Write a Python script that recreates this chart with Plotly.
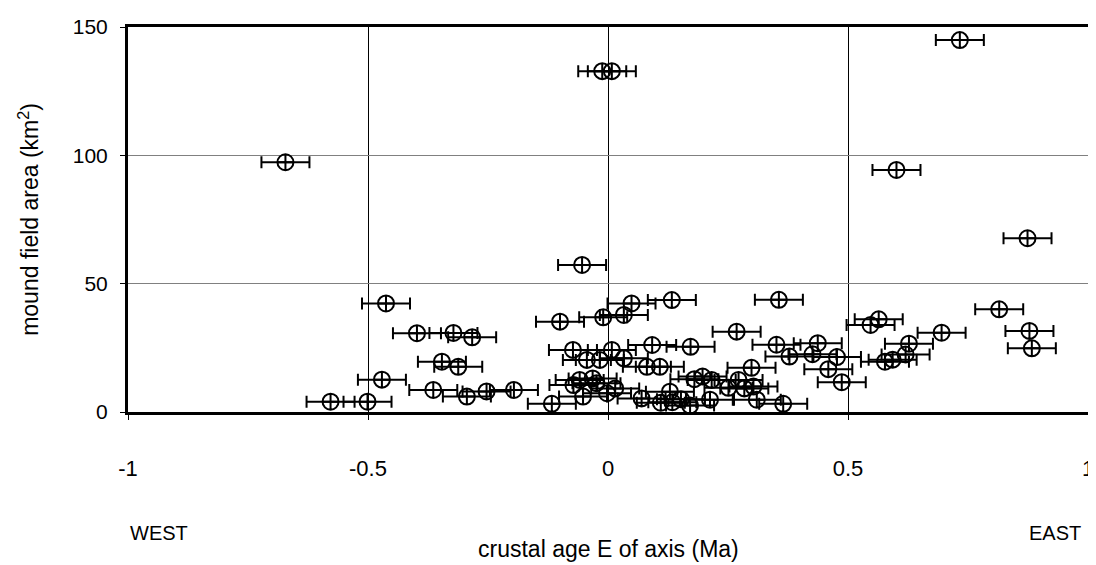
import plotly.graph_objects as go

# crustal age E of axis (Ma)
age = [-0.672, -0.012, 0.008, 0.733, 0.601, 0.874, -0.054, -0.4625, 0.049, 0.133,
       0.356, 0.815, -0.100, -0.010, 0.033, 0.564, 0.547, -0.398, -0.322, -0.283,
       0.268, 0.695, 0.878, 0.883, -0.073, 0.008, 0.092, 0.172, 0.351, 0.437,
       0.627, -0.044, -0.017, 0.033, 0.378, 0.426, 0.477, 0.620, 0.593, 0.577,
       -0.346, -0.312, 0.081, 0.108, 0.299, 0.459, -0.471, -0.059, -0.032, -0.072,
       -0.024, 0.180, 0.197, 0.216, 0.272, 0.487, -0.364, -0.253, -0.196, -0.294,
       0.015, 0.251, 0.284, 0.303, -0.052, -0.002, 0.070, 0.129, 0.110, 0.134,
       0.152, 0.171, 0.2125, 0.310, 0.365, -0.117, -0.578, -0.501]
# mound field area (km2)
area = [97.3, 132.8, 132.8, 144.9, 94.3, 67.7, 57.3, 42.3, 42.3, 43.6,
        43.7, 40.0, 35.2, 36.9, 37.8, 36.1, 33.9, 30.7, 30.8, 29.1,
        31.3, 30.9, 31.6, 24.8, 24.2, 24.2, 26.1, 25.4, 26.2, 26.8,
        26.6, 20.3, 20.3, 20.9, 21.6, 22.5, 21.4, 22.4, 20.4, 19.6,
        19.6, 17.6, 17.6, 17.6, 17.2, 16.7, 12.6, 12.5, 13.1, 10.5,
        11.2, 12.8, 13.8, 12.5, 12.5, 11.6, 8.6, 8.0, 8.6, 6.0,
        9.2, 9.4, 9.2, 9.9, 6.0, 7.3, 5.3, 7.9, 3.6, 3.8,
        5.0, 2.5, 4.8, 4.8, 3.2, 3.2, 4.0, 4.0]
age_err = [0.05] * len(age)

x_ticks = [-1, -0.5, 0, 0.5, 1]
x_ticktext = ["-1", "-0.5", "0", "0.5", "1"]
y_ticks = [0, 50, 100, 150]

FONT = "Arial, Liberation Sans, sans-serif"

fig = go.Figure()
fig.add_trace(go.Scatter(
    x=age, y=area, mode="markers",
    marker=dict(symbol="circle-cross-open", size=16, color="black",
                line=dict(color="black", width=2)),
    error_x=dict(type="data", array=age_err, visible=True,
                 color="black", thickness=2, width=6),
    showlegend=False, cliponaxis=False,
))

# page body has an 8px default margin, so the figure is 8px smaller
fig.update_layout(
    width=1088, height=557,
    margin=dict(l=120, r=8, t=19, b=153, autoexpand=False),
    paper_bgcolor="white", plot_bgcolor="white",
    font=dict(family=FONT, size=20, color="black"),
    xaxis=dict(
        range=[-1, 1], tickvals=x_ticks, ticktext=x_ticktext,
        showgrid=True, gridcolor="black", gridwidth=1,
        zeroline=False, showline=True, linecolor="black", linewidth=3,
        mirror=True, ticks="outside", ticklen=5, tickcolor="black",
        ticklabelstandoff=30, automargin=False,
        tickfont=dict(size=22),
    ),
    yaxis=dict(
        range=[0, 150], tickvals=y_ticks,
        showgrid=True, gridcolor="#808080", gridwidth=1,
        zeroline=False, showline=True, linecolor="black", linewidth=3,
        mirror=True, ticks="outside", ticklen=5, tickcolor="black",
        ticklabelstandoff=8, automargin=False,
        title=dict(text="mound field area (km<sup>2</sup>)", font=dict(size=23), standoff=28),
        tickfont=dict(size=21),
    ),
    annotations=[
        dict(text="crustal age E of axis (Ma)", xref="paper", yref="paper",
             x=0.5, y=0, yshift=-137, showarrow=False, xanchor="center", yanchor="middle",
             font=dict(size=23)),
        dict(text="WEST", xref="paper", yref="paper", x=0, y=0, yshift=-121,
             showarrow=False, xanchor="left", yanchor="middle", font=dict(size=20)),
        dict(text="EAST", xref="paper", yref="paper", x=1, y=0, xshift=-5, yshift=-121,
             showarrow=False, xanchor="right", yanchor="middle", font=dict(size=20)),
    ],
)

fig.write_html("out.html")
